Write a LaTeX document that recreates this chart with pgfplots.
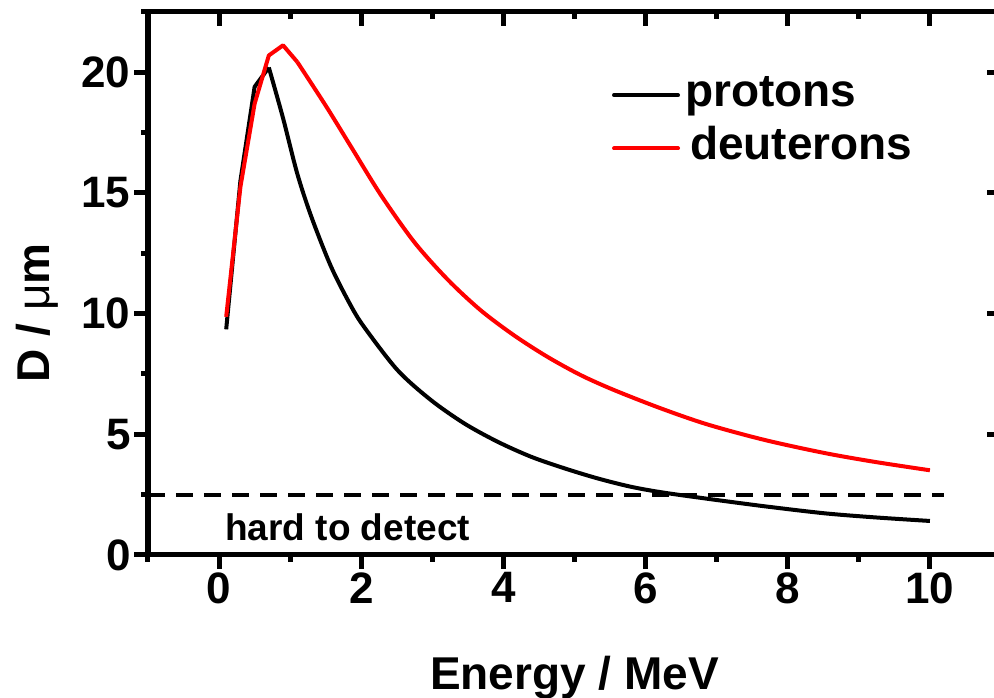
\documentclass[border=0pt]{standalone}
\usepackage{pgfplots}
\usepackage{pgfplotstable}
\pgfplotsset{compat=1.18}
\usepackage{fontspec}
\setmainfont{Liberation Sans}

% protons: rising part and falling part
\pgfplotstableread{
x y
0.1 9.35
0.3 15.5
0.5 19.4
0.7 20.2
}\protonsup
\pgfplotstableread{
x y
0.7 20.2
0.9 18.1
1.1 15.8
1.3 14.0
1.575 11.95
1.85 10.35
2.04 9.45
2.51 7.66
2.98 6.42
3.45 5.45
3.92 4.69
4.39 4.07
4.86 3.59
5.33 3.17
5.79 2.83
6.22 2.6
6.87 2.33
7.67 2.02
8.51 1.73
9.22 1.56
10.0 1.41
}\protonsdown

% deuterons: rising part and falling part
\pgfplotstableread{
x y
0.1 9.87
0.3 15.25
0.5 18.7
0.7 20.7
0.9 21.12
1.1 20.43
}\deuteronsup
\pgfplotstableread{
x y
1.1 20.43
1.5 18.62
1.86 16.9
2.28 14.9
2.75 12.95
3.22 11.4
3.68 10.14
4.15 9.1
4.62 8.21
5.09 7.45
5.56 6.83
6.22 6.07
6.87 5.41
7.67 4.77
8.51 4.23
9.22 3.86
10.0 3.51
}\deuteronsdown

\pgfplotsset{
  myaxis/.style={
    at={(148pt,143pt)}, anchor=south west,
    scale only axis, width=853pt, height=543pt,
    xmin=-1, xmax=11, ymin=0, ymax=22.5,
    xtick={0,2,...,10}, ytick={0,5,...,20},
    minor xtick={-1,1,...,11}, minor ytick={2.5,7.5,...,22.5},
    axis line style={line width=5pt},
    major tick length=14pt, minor tick length=7pt,
    every tick/.style={line width=5pt, black},
    /pgf/number format/assume math mode=true,
    tick label style={font=\fontsize{44}{44}\selectfont\bfseries},
  }
}

\begin{document}
\begin{tikzpicture}
\begin{axis}[myaxis,
  tick align=outside, xtick pos=left, ytick pos=left,
  xlabel={Energy / MeV},
  xlabel style={at={(axis description cs:0.5,-0.2486)}, anchor=base, font=\fontsize{46}{46}\selectfont\bfseries},
  ylabel={D / {\mdseries μ}m},
  ylabel style={at={(axis description cs:-0.1149,0.4457)}, anchor=base, font=\fontsize{46}{46}\selectfont\bfseries},
  legend style={at={(rel axis cs:0.544,0.8864)}, anchor=north west, draw=none, fill=none,
    inner sep=0pt, outer sep=0pt, row sep=10.3pt, column sep=5pt,
    font=\fontsize{46}{46}\selectfont\bfseries,
    nodes={inner sep=0pt, text height=33pt, text depth=10pt}},
  legend cell align=left,
  legend image code/.code={\draw[#1, line cap=round] (2pt,0pt) -- (66pt,0pt);},
]
\addplot[black, line width=4pt, line join=round] table {\protonsup};
\addlegendentry{protons}
\addplot[red, line width=4pt, line join=round] table {\deuteronsup};
\addlegendentry{\hspace{5pt}deuterons}
\addplot[black, line width=4pt, smooth, line join=round, forget plot] table {\protonsdown};
\addplot[red, line width=4pt, smooth, line join=round, forget plot] table {\deuteronsdown};
\addplot[black, line width=4pt, dash pattern=on 17pt off 11pt, forget plot] coordinates {(-1,2.5) (10.2,2.5)};
\node[anchor=base west, inner sep=0pt, font=\fontsize{37}{37}\selectfont\bfseries] at (axis cs:0.085,0.59) {hard to detect};
\end{axis}
\begin{axis}[myaxis,
  tick align=inside, xtick pos=right, ytick pos=right,
  xticklabels={}, yticklabels={},
]
\end{axis}
\pgfresetboundingbox
\path[use as bounding box] (0pt,0pt) rectangle (994pt,698pt);
\end{tikzpicture}
\end{document}
